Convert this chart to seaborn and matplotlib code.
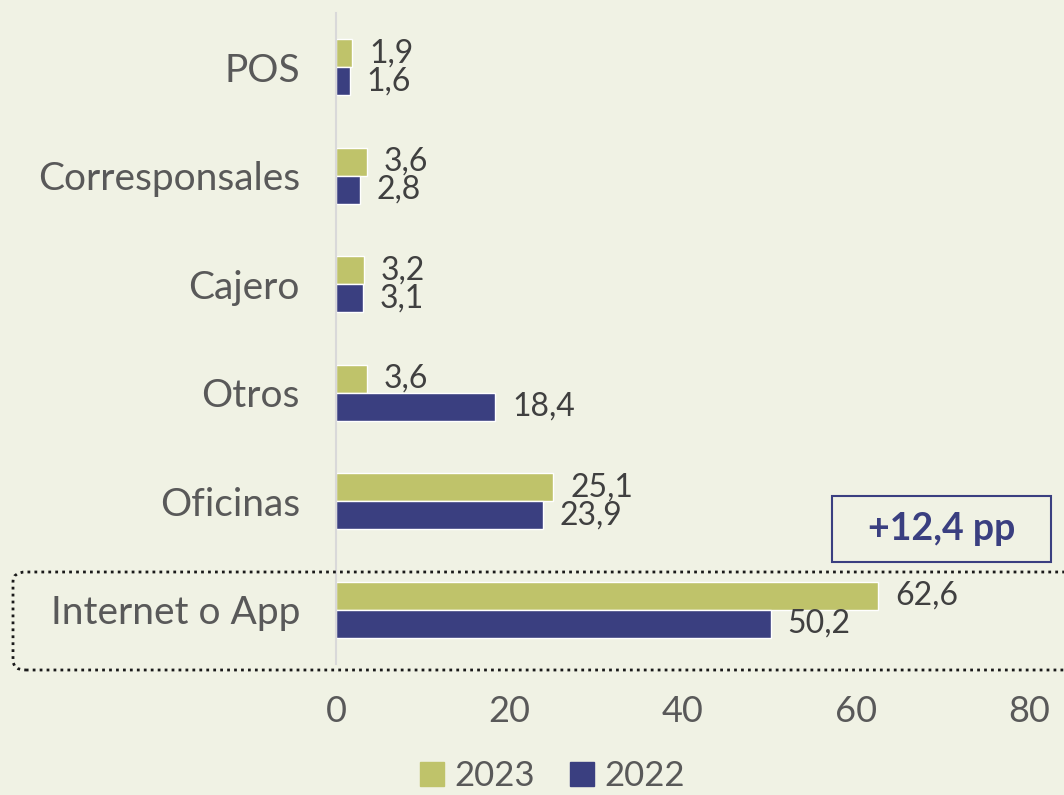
import numpy as np
import pandas as pd
import matplotlib.pyplot as plt
import seaborn as sns
from matplotlib.patches import FancyBboxPatch, Rectangle

# data
canales = ['POS', 'Corresponsales', 'Cajero', 'Otros', 'Oficinas', 'Internet o App']
val_2023 = [1.9, 3.6, 3.2, 3.6, 25.1, 62.6]
val_2022 = [1.6, 2.8, 3.1, 18.4, 23.9, 50.2]
years = ['2023', '2022']
colors = ['#BFC36A', '#3A3F80']

df = pd.DataFrame({'Canal': canales * 2,
                   'Valor': val_2023 + val_2022,
                   'Año': ['2023'] * 6 + ['2022'] * 6})

bg = '#F0F2E4'
txt = '#595959'

sns.set_theme(style='white')
plt.rcParams['font.family'] = ['Lato', 'DejaVu Sans']

fig = plt.figure(figsize=(10.64, 7.95), dpi=100, facecolor=bg)
ax = fig.add_axes([0.3158, 0.1648, 0.6513, 0.8188])
ax.set_facecolor(bg)

sns.barplot(data=df, y='Canal', x='Valor', hue='Año', order=canales,
            hue_order=years, palette=colors, orient='h', width=0.52,
            saturation=1, ax=ax, legend=False)

# value labels with comma decimals
for cont, vals in zip(ax.containers, [val_2023, val_2022]):
    ax.bar_label(cont, labels=[f'{v:.1f}'.replace('.', ',') for v in vals],
                 padding=12, fontsize=23, color='#404040')

ax.set_xlim(0, 80)
ax.set_ylim(5.5, -0.5)
ax.set_xticks([0, 20, 40, 60, 80])
ax.set_xlabel('')
ax.set_ylabel('')
ax.tick_params(axis='x', labelsize=26, labelcolor=txt, pad=22, length=0)
ax.tick_params(axis='y', labelsize=28, labelcolor=txt, pad=26, length=0)
for s in ['top', 'right', 'bottom']:
    ax.spines[s].set_visible(False)
ax.spines['left'].set_color('#D9D9D9')
ax.spines['left'].set_linewidth(1.5)

# dotted highlight around Internet o App
hl = FancyBboxPatch((13 / 1064, 1 - 670 / 795), 1080 / 1064, 98 / 795,
                    boxstyle='round,pad=0,rounding_size=0.012',
                    transform=fig.transFigure, fill=False, linestyle=(0, (1, 1.5)),
                    linewidth=2, edgecolor='#1A1A1A', clip_on=False)
fig.patches.append(hl)

# +12,4 pp box
box = Rectangle((832 / 1064, 1 - 562 / 795), 219 / 1064, 66 / 795,
                transform=fig.transFigure, fill=False, edgecolor='#3A3F80', linewidth=1.5)
fig.patches.append(box)
fig.text(941.5 / 1064, 1 - 529 / 795, '+12,4 pp', ha='center', va='center',
         fontsize=27, fontweight='bold', color='#3A3F80')

# legend
handles = [Rectangle((0, 0), 1, 1, color=c) for c in colors]
fig.legend(handles, years, loc='center', bbox_to_anchor=(0.519, 1 - 776 / 795),
           ncol=2, frameon=False, fontsize=25, labelcolor=txt,
           handlelength=0.7, handleheight=0.7, handletextpad=0.3, columnspacing=1.0)

fig.savefig('out.png', dpi=100, facecolor=bg)
